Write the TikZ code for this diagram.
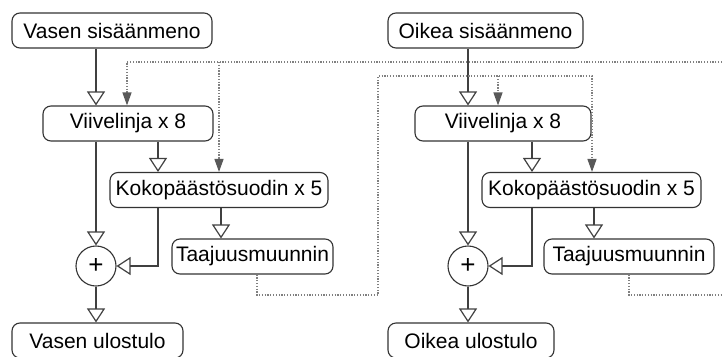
\documentclass[tikz,border=0pt]{standalone}
\usepackage{fontspec}
\setmainfont{Liberation Sans}
\usetikzlibrary{arrows.meta}

\begin{document}
\begin{tikzpicture}[x=1pt,y=-1pt,
  lohko/.style={draw=black!80,line width=1.1pt,rounded corners=8pt,minimum height=35pt,inner sep=0pt,font=\fontsize{21}{24}\selectfont},
  summain/.style={draw=black!80,line width=1.1pt,circle,minimum size=40pt,inner sep=0pt,font=\fontsize{26}{28}\selectfont},
  vuo/.style={draw=black!75,line width=1.2pt,-{Triangle[open,length=14pt,width=18pt]}},
  pisteet/.style={draw=black!50,line width=1.3pt,dash pattern=on 1.3pt off 1.5pt},
  ohjaus/.style={pisteet,-{Triangle[length=13pt,width=9pt,color=black!65]}}]
\useasboundingbox (0,0) rectangle (722,356);
\node[lohko,minimum width=200pt] (inL) at (112,30.5) {Vasen sisäänmeno};
\node[lohko,minimum width=170pt] (delL) at (128,123.5) {Viivelinja x 8};
\node[lohko,minimum width=218pt] (apL) at (219,190) {Kokopäästösuodin x 5};
\node[lohko,minimum width=161pt] (fsL) at (252.5,256.5) {Taajuusmuunnin};
\node[summain] (sumL) at (96,266) {+};
\node[lohko,minimum width=171pt] (outL) at (97.5,340.5) {Vasen ulostulo};
\node[lohko,minimum width=195pt] (inR) at (485.5,30.5) {Oikea sisäänmeno};
\node[lohko,minimum width=176pt] (delR) at (503,123.5) {Viivelinja x 8};
\node[lohko,minimum width=219pt] (apR) at (591.5,190) {Kokopäästösuodin x 5};
\node[lohko,minimum width=170pt] (fsR) at (629,256.5) {Taajuusmuunnin};
\node[summain] (sumR) at (468,266) {+};
\node[lohko,minimum width=166pt] (outR) at (471,340.5) {Oikea ulostulo};
\coordinate (kL) at (158,0);
\coordinate (tL) at (221,0);
\coordinate (dL) at (257,0);
\coordinate (kR) at (532,0);
\coordinate (tR) at (594,0);
\coordinate (dR) at (629,0);
% vasen kanava
\draw[vuo] (inL.south -| sumL) -- (delL.north -| sumL);
\draw[vuo] (delL.south -| sumL) -- (sumL.north);
\draw[vuo] (delL.south -| kL) -- (apL.north -| kL);
\draw[vuo] (apL.south -| kL) -- (kL |- sumL) -- (sumL.east);
\draw[vuo] (apL.south -| tL) -- (fsL.north -| tL);
\draw[vuo] (sumL.south) -- (outL.north -| sumL);
% oikea kanava
\draw[vuo] (inR.south -| sumR) -- (delR.north -| sumR);
\draw[vuo] (delR.south -| sumR) -- (sumR.north);
\draw[vuo] (delR.south -| kR) -- (apR.north -| kR);
\draw[vuo] (apR.south -| kR) -- (kR |- sumR) -- (sumR.east);
\draw[vuo] (apR.south -| tR) -- (fsR.north -| tR);
\draw[vuo] (sumR.south) -- (outR.north -| sumR);
% ohjaus
\coordinate (reunaY) at (722,62);
\coordinate (ylaL) at (127,62);
\coordinate (haaraL) at (219,62);
\coordinate (reunaA) at (722,295);
\coordinate (kulmaA) at (378,295);
\coordinate (kulmaY) at (378,76);
\coordinate (haaraR) at (498,76);
\coordinate (ylaR) at (592,76);
\draw[ohjaus] (reunaY) -- (ylaL) -- (delL.north -| ylaL);
\draw[ohjaus] (haaraL) -- (apL.north -| haaraL);
\draw[pisteet] (fsR.south -| dR) -- (dR |- reunaA) -- (reunaA);
\draw[ohjaus] (fsL.south -| dL) -- (dL |- kulmaA) -- (kulmaA) -- (kulmaY) -- (ylaR) -- (apR.north -| ylaR);
\draw[ohjaus] (haaraR) -- (delR.north -| haaraR);
\end{tikzpicture}
\end{document}
